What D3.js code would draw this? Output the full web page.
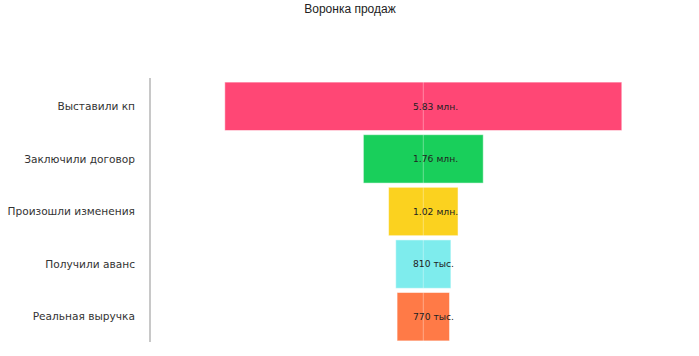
<!DOCTYPE html>
<html>
<head>
<meta charset="utf-8">
<script src="https://cdn.jsdelivr.net/npm/d3@7"></script>
<style>
  body { margin: 0; background: #fff; }
  text { font-family: "DejaVu Sans", Verdana, sans-serif; }
</style>
</head>
<body>
<div id="chart"></div>
<script>
var stages = ["Выставили кп", "Заключили договор", "Произошли изменения", "Получили аванс", "Реальная выручка"];
var amounts = [5830000, 1760000, 1020000, 810000, 770000];
var valueLabels = ["5.83 млн.", "1.76 млн.", "1.02 млн.", "810 тыс.", "770 тыс."];
var colors = ["#ff4775", "#19cf5b", "#fbd21f", "#7eeced", "#ff7a47"];

var width = 699, height = 356;
var cx = 423.3, halfMax = 198.5;

var svg = d3.select("#chart").append("svg")
    .attr("width", width)
    .attr("height", height);

svg.append("text")
    .attr("x", 350)
    .attr("y", 13)
    .attr("text-anchor", "middle")
    .style("font-family", "Liberation Sans, Arial, sans-serif")
    .style("font-size", "12px")
    .style("fill", "#222")
    .text("Воронка продаж");

var y = d3.scaleBand()
    .domain(stages)
    .range([80, 343])
    .paddingInner(0.08)
    .paddingOuter(0.04);

// half-width scale, bars grow both ways from the center
var w = d3.scaleLinear()
    .domain([0, d3.max(amounts)])
    .range([0, halfMax]);

var rows = stages.map(function(s, i) {
  return {stage: s, value: amounts[i], label: valueLabels[i], color: colors[i]};
});

svg.append("line")
    .attr("x1", 150).attr("x2", 150)
    .attr("y1", 78).attr("y2", 342)
    .style("stroke", "#c8c8c8")
    .style("stroke-width", 2);

svg.selectAll(".stage")
    .data(rows)
  .enter().append("text")
    .attr("class", "stage")
    .attr("x", 135)
    .attr("y", function(d) { return y(d.stage) + y.bandwidth() / 2; })
    .attr("dy", "0.35em")
    .attr("text-anchor", "end")
    .style("font-size", "10.6px")
    .style("fill", "#333")
    .text(function(d) { return d.stage; });

svg.selectAll(".bar")
    .data(rows)
  .enter().append("rect")
    .attr("class", "bar")
    .attr("x", function(d) { return cx - w(d.value); })
    .attr("y", function(d) { return y(d.stage); })
    .attr("width", function(d) { return 2 * w(d.value); })
    .attr("height", y.bandwidth())
    .style("fill", function(d) { return d.color; })
    .style("stroke", "rgba(255,255,255,0.5)")
    .style("stroke-width", 1);

svg.selectAll(".mid")
    .data(rows)
  .enter().append("line")
    .attr("class", "mid")
    .attr("x1", cx).attr("x2", cx)
    .attr("y1", function(d) { return y(d.stage); })
    .attr("y2", function(d) { return y(d.stage) + y.bandwidth(); })
    .style("stroke", "rgba(255,255,255,0.35)")
    .style("stroke-width", 1);

svg.selectAll(".val")
    .data(rows)
  .enter().append("text")
    .attr("class", "val")
    .attr("x", 413)
    .attr("y", function(d) { return y(d.stage) + y.bandwidth() / 2; })
    .attr("dy", "0.35em")
    .style("font-size", "9.2px")
    .style("fill", "#222")
    .text(function(d) { return d.label; });
</script>
</body>
</html>
